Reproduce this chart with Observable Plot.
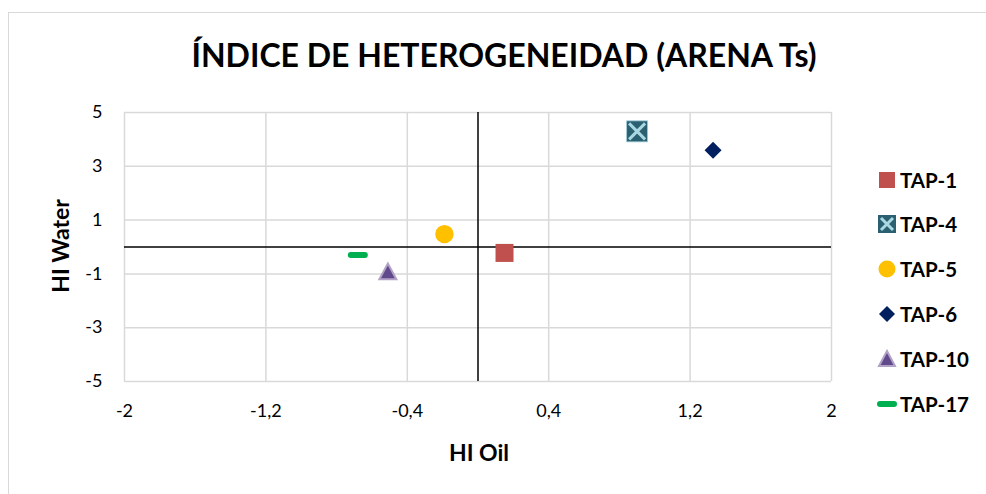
<!DOCTYPE html>
<html><head><meta charset="utf-8">
<script src="https://cdn.jsdelivr.net/npm/d3@7"></script>
<script src="https://cdn.jsdelivr.net/npm/@observablehq/plot@0.6"></script>
<style>
html,body{margin:0;padding:0;background:#fff;overflow:hidden;}
#wrap{position:relative;width:986px;height:494px;font-family:Lato,"Open Sans",sans-serif;}
#frame{position:absolute;left:8px;top:12px;width:1000px;height:500px;border:1px solid #d9d9d9;box-sizing:border-box;}
#chart{position:absolute;left:0;top:0;}
#title{position:absolute;left:0;width:1008px;top:35px;text-align:center;font-weight:bold;font-size:32px;color:#000;}
#ylab{position:absolute;left:60px;top:246px;transform:translate(-50%,-50%) rotate(-90deg);font-weight:bold;font-size:23px;white-space:nowrap;}
#xlab{position:absolute;left:479px;top:452px;transform:translate(-50%,-50%);font-weight:bold;font-size:23px;white-space:nowrap;}
#legend{position:absolute;left:877px;top:0;}
.li{position:absolute;left:0;display:flex;align-items:center;font-weight:bold;font-size:20.5px;white-space:nowrap;transform:translateY(-50%);}
.li svg{margin-right:3px;}
</style></head>
<body><div id="wrap"><div id="frame"></div><div id="chart"></div>
<div id="title">ÍNDICE DE HETEROGENEIDAD (ARENA Ts)</div>
<div id="ylab">HI Water</div><div id="xlab">HI Oil</div>
<div id="legend"></div></div>
<script>
const series = ["TAP-1", "TAP-4", "TAP-5", "TAP-6", "TAP-10", "TAP-17"];
const hiOil = [0.15, 0.90, -0.19, 1.33, -0.51, -0.68];
const hiWater = [-0.22, 4.3, 0.48, 3.6, -0.93, -0.3];
const xTicks = [-2, -1.2, -0.4, 0.4, 1.2, 2];
const yTicks = [-5, -3, -1, 1, 3, 5];

const data = series.map((s, i) => ({name: s, x: hiOil[i], y: hiWater[i]}));
const fmt = d => String(d).replace(".", ",");

const sc = size => Math.sqrt(size / Math.PI) / 10;
const symSquare = h => ({draw(c, size){const k=sc(size)*h; c.moveTo(-k,-k); c.lineTo(k,-k); c.lineTo(k,k); c.lineTo(-k,k); c.closePath();}});
const symTimes = h => ({draw(c, size){const k=sc(size)*h; c.moveTo(-k,-k); c.lineTo(k,k); c.moveTo(k,-k); c.lineTo(-k,k);}});
const symDiamond = h => ({draw(c, size){const k=sc(size)*h; c.moveTo(0,-k); c.lineTo(k,0); c.lineTo(0,k); c.lineTo(-k,0); c.closePath();}});
const symTri = h => ({draw(c, size){const k=sc(size)*h; c.moveTo(0,-k); c.lineTo(k,k*0.85); c.lineTo(-k,k*0.85); c.closePath();}});
const symDash = h => ({draw(c, size){const k=sc(size)*h; c.moveTo(-k,0); c.lineTo(k,0);}});

const styles = {
  "TAP-1": [{symbol: symSquare(9), fill: "#c0504d"}],
  "TAP-4": [{symbol: symSquare(10.5), fill: "#2b6070", stroke: "#9fcfdc", strokeWidth: 0.8}, {symbol: symTimes(8), stroke: "#a9d8e3", strokeWidth: 3, fill: "none"}],
  "TAP-5": [{symbol: "circle", r: 9.2, fill: "#ffc000"}],
  "TAP-6": [{symbol: symDiamond(8.5), fill: "#002060"}],
  "TAP-10": [{symbol: symTri(8.5), fill: "#604a8b", stroke: "#b3a2c7", strokeWidth: 2}],
  "TAP-17": [{symbol: symDash(7), stroke: "#00b050", strokeWidth: 6, strokeLinecap: "round", fill: "none"}]
};

const dotMarks = [];
data.forEach(d => {
  styles[d.name].forEach(st => {
    dotMarks.push(Plot.dot([d], {x: "x", y: "y", r: 10, ...st}));
  });
});

const chart = Plot.plot({
  width: 986, height: 494,
  marginLeft: 124, marginRight: 155, marginTop: 112, marginBottom: 113,
  style: {fontFamily: "Lato, 'Open Sans', sans-serif", fontSize: "18px", color: "#000", background: "transparent"},
  x: {domain: [-2, 2], ticks: xTicks, tickFormat: fmt},
  y: {domain: [-5, 5], ticks: yTicks, tickFormat: fmt},
  marks: [
    Plot.gridX(xTicks, {stroke: "#d9d9d9", strokeOpacity: 1, strokeWidth: 1.5}),
    Plot.gridY(yTicks, {stroke: "#d9d9d9", strokeOpacity: 1, strokeWidth: 1.5}),
    Plot.axisX(xTicks, {tickSize: 0, tickPadding: 23, tickFormat: fmt, label: null, fill: "#000", fontSize: 18}),
    Plot.axisY(yTicks, {tickSize: 0, tickPadding: 22, tickFormat: fmt, label: null, fill: "#000", fontSize: 18}),
    Plot.ruleX([0], {stroke: "#000", strokeWidth: 1.5}),
    Plot.ruleY([0], {stroke: "#000", strokeWidth: 1.5}),
    ...dotMarks
  ]
});
document.getElementById("chart").appendChild(chart);

// legend
const legendY = [180, 224, 269, 314, 359, 404];
const glyph = {
  "TAP-1": '<rect x="2" y="2" width="16" height="16" fill="#c0504d"/>',
  "TAP-4": '<rect x="1" y="1" width="18" height="18" fill="#2b6070"/><path d="M4,4L16,16M16,4L4,16" stroke="#a9d8e3" stroke-width="3"/>',
  "TAP-5": '<circle cx="10" cy="10" r="8.5" fill="#ffc000"/>',
  "TAP-6": '<path d="M10,2L18,10L10,18L2,10Z" fill="#002060"/>',
  "TAP-10": '<path d="M10,2L18,17L2,17Z" fill="#604a8b" stroke="#b3a2c7" stroke-width="2"/>',
  "TAP-17": '<path d="M3,10L17,10" stroke="#00b050" stroke-width="6" stroke-linecap="round"/>'
};
const leg = document.getElementById("legend");
series.forEach((s, i) => {
  const el = document.createElement("div");
  el.className = "li";
  el.style.top = legendY[i] + "px";
  el.innerHTML = `<svg width="20" height="20">${glyph[s]}</svg><span>${s}</span>`;
  leg.appendChild(el);
});
</script></body></html>
